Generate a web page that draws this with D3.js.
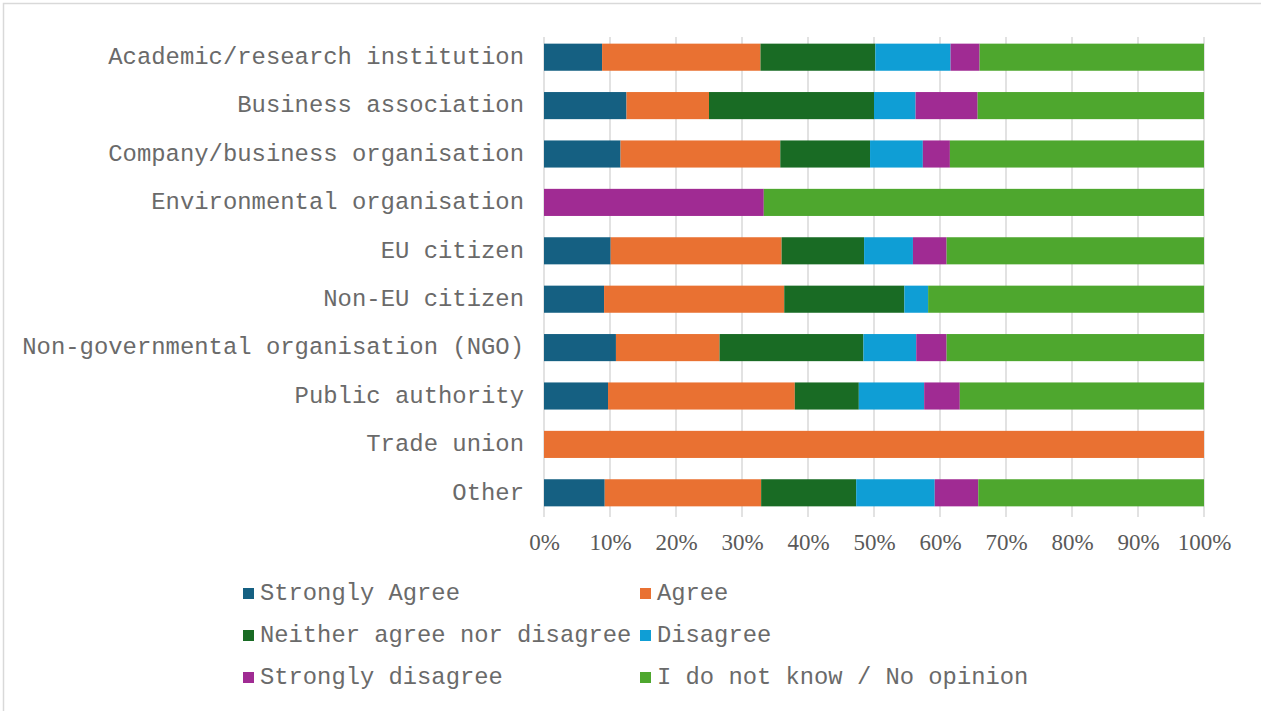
<!DOCTYPE html>
<html>
<head>
<meta charset="utf-8">
<script src="https://cdn.jsdelivr.net/npm/d3@7"></script>
<style>
  html, body { margin: 0; padding: 0; background: #fff; }
  svg { display: block; }
</style>
</head>
<body>
<svg id="chart" width="1261" height="711"></svg>
<script>
const categories = [
  "Academic/research institution",
  "Business association",
  "Company/business organisation",
  "Environmental organisation",
  "EU citizen",
  "Non-EU citizen",
  "Non-governmental organisation (NGO)",
  "Public authority",
  "Trade union",
  "Other"
];
const seriesNames = ["Strongly Agree", "Agree", "Neither agree nor disagree", "Disagree", "Strongly disagree", "I do not know / No opinion"];
const seriesColors = ["#156082", "#E97132", "#196B24", "#0F9ED5", "#A02B93", "#4EA72E"];

const stronglyAgree = [8.8, 12.5, 11.6, 0, 10.1, 9.1, 10.9, 9.7, 0, 9.2];
const agree         = [24.0, 12.5, 24.2, 0, 25.9, 27.3, 15.7, 28.3, 100, 23.7];
const neither       = [17.4, 25.0, 13.6, 0, 12.5, 18.2, 21.8, 9.7, 0, 14.4];
const disagree      = [11.4, 6.3, 8.0, 0, 7.4, 3.6, 8.0, 9.9, 0, 11.9];
const stronglyDis   = [4.4, 9.4, 4.1, 33.3, 5.1, 0, 4.6, 5.4, 0, 6.6];
const noOpinion     = [34.0, 34.3, 38.5, 66.7, 39.0, 41.8, 39.0, 37.0, 0, 34.2];

const tickValues = [0, 0.1, 0.2, 0.3, 0.4, 0.5, 0.6, 0.7, 0.8, 0.9, 1.0];

const seriesData = [stronglyAgree, agree, neither, disagree, stronglyDis, noOpinion];

const rows = categories.map((c, i) => {
  const o = { category: c };
  seriesNames.forEach((s, j) => { o[s] = seriesData[j][i]; });
  return o;
});

const stack = d3.stack().keys(seriesNames).offset(d3.stackOffsetExpand);
const stacked = stack(rows);

const svg = d3.select("#chart");
const W = 1261, H = 711;
const plot = { left: 544, right: 1204, top: 33, bottom: 517 };

const textColor = "#595959";
const monoColor = "#6a6a6a";
const gridColor = "#d9d9d9";
const monoFont = "'Liberation Mono', 'Courier New', monospace";
const serifFont = "'Liberation Serif', 'Times New Roman', serif";

// chart border
svg.append("rect")
  .attr("x", 3.5).attr("y", 3.5)
  .attr("width", W + 20).attr("height", H + 20)
  .attr("fill", "#fff")
  .attr("stroke", gridColor).attr("stroke-width", 1.5);

const x = d3.scaleLinear().domain([0, 1]).range([plot.left, plot.right]);
const y = d3.scaleBand().domain(categories).range([plot.top, plot.bottom]).paddingInner(0.44).paddingOuter(0.22);

// gridlines
svg.append("g")
  .selectAll("line")
  .data(tickValues)
  .join("line")
  .attr("x1", d => x(d)).attr("x2", d => x(d))
  .attr("y1", plot.top + 4).attr("y2", plot.bottom)
  .attr("stroke", gridColor).attr("stroke-width", 1.5);

// bars
svg.append("g")
  .selectAll("g")
  .data(stacked)
  .join("g")
  .attr("fill", (d, i) => seriesColors[i])
  .selectAll("rect")
  .data(d => d)
  .join("rect")
  .attr("x", d => x(d[0]))
  .attr("width", d => Math.max(0, x(d[1]) - x(d[0])))
  .attr("y", d => y(d.data.category))
  .attr("height", y.bandwidth());

// x axis
const xAxis = d3.axisBottom(x)
  .tickValues(tickValues)
  .tickFormat(d3.format(".0%"))
  .tickSize(0)
  .tickPadding(0);
const gx = svg.append("g")
  .attr("transform", `translate(0, ${plot.bottom})`)
  .call(xAxis);
gx.select(".domain").remove();
gx.selectAll("text")
  .attr("y", 33)
  .attr("dy", 0)
  .attr("fill", textColor)
  .style("font-family", serifFont)
  .style("font-size", "23px");

// y axis labels
const yAxis = d3.axisLeft(y).tickSize(0).tickPadding(0);
const gy = svg.append("g")
  .attr("transform", `translate(${plot.left - 20}, 0)`)
  .call(yAxis);
gy.select(".domain").remove();
gy.selectAll("text")
  .attr("x", 0)
  .attr("dy", "0.28em")
  .attr("fill", monoColor)
  .style("font-family", monoFont)
  .style("font-size", "23.9px");

// legend
const legendCols = [243, 640];
const legendRows = [593, 635, 677];
const legend = svg.append("g")
  .selectAll("g")
  .data(seriesNames)
  .join("g")
  .attr("transform", (d, i) => `translate(${legendCols[i % 2]}, ${legendRows[Math.floor(i / 2)]})`);
legend.append("rect")
  .attr("x", 0).attr("y", -5)
  .attr("width", 11).attr("height", 11)
  .attr("fill", (d, i) => seriesColors[i]);
legend.append("text")
  .attr("x", 17).attr("y", 0)
  .attr("dy", "0.3em")
  .attr("fill", monoColor)
  .style("font-family", monoFont)
  .style("font-size", "23.8px")
  .text(d => d);
</script>
</body>
</html>
